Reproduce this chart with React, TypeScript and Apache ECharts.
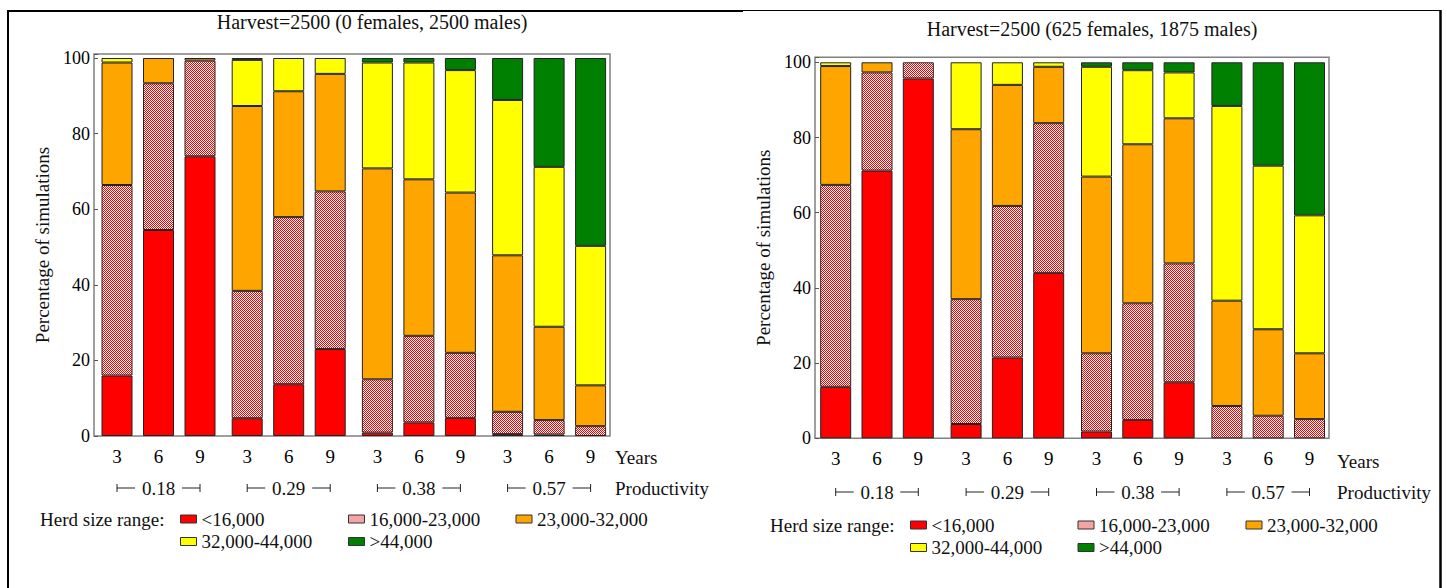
import React, { useEffect, useRef } from 'react';
import * as echarts from 'echarts';

// ---------- data ----------
const years = ['3', '6', '9'];
const productivity = ['0.18', '0.29', '0.38', '0.57'];
const ranges = ['<16,000', '16,000-23,000', '23,000-32,000', '32,000-44,000', '>44,000'];
const titles = ['Harvest=2500 (0 females, 2500 males)', 'Harvest=2500 (625 females, 1875 males)'];
const yTicks = [0, 20, 40, 60, 80, 100];
const yName = 'Percentage of simulations';
const xName = 'Years';
const groupName = 'Productivity';
const legendTitle = 'Herd size range:';

// left panel: 0 females, 2500 males (12 bars: 4 productivity groups x 3 years)
const leftLt16 = [16, 54.5, 74, 4.7, 13.7, 23, 0.9, 3.6, 4.8, 0.5, 0.4, 0];
const left16to23 = [50.4, 38.8, 25.3, 33.7, 44.2, 41.7, 14.1, 22.9, 17.2, 5.9, 3.8, 2.6];
const left23to32 = [32.4, 6.7, 0.7, 48.9, 33.3, 31.1, 55.8, 41.4, 42.4, 41.4, 24.7, 10.8];
const left32to44 = [1.2, 0, 0, 12.2, 8.8, 4.2, 28, 30.9, 32.4, 41.1, 42.3, 36.9];
const leftGt44 = [0, 0, 0, 0.5, 0, 0, 1.2, 1.2, 3.2, 11.1, 28.8, 49.7];

// right panel: 625 females, 1875 males
const rightLt16 = [13.7, 71.2, 95.7, 3.8, 21.5, 44, 1.8, 4.9, 14.9, 0, 0, 0];
const right16to23 = [53.7, 26.1, 4.3, 33.2, 40.3, 39.8, 20.8, 31, 31.6, 8.6, 6, 5.1];
const right23to32 = [31.6, 2.7, 0, 45.2, 32.2, 15, 47, 42.3, 38.6, 28, 23, 17.5];
const right32to44 = [1, 0, 0, 17.8, 6, 1.2, 29.2, 19.7, 12.2, 51.8, 43.5, 36.7];
const rightGt44 = [0, 0, 0, 0, 0, 0, 1.2, 2.1, 2.7, 11.6, 27.5, 40.7];

const panelData = [
  [leftLt16, left16to23, left23to32, left32to44, leftGt44],
  [rightLt16, right16to23, right23to32, right32to44, rightGt44],
];

// ---------- layout / style ----------
const FONT = "'Liberation Serif', 'Times New Roman', serif";
const layouts = [
  {
    frame: [94, 54, 610, 436], plotTop: 58, c0: 117, s: 41.5, G: 130.2,
    titleX: 372, titleY: 12, labelX: 615, yearsY: 457, prodY: 488, herdX: 40,
    legendCols: [180, 348, 515.5], legendRows: [519, 541.5],
  },
  {
    frame: [815, 57.3, 1329, 438.3], plotTop: 62.3, c0: 835.7, s: 41.3, G: 130.4,
    titleX: 1092, titleY: 19, labelX: 1337, yearsY: 461, prodY: 492, herdX: 770,
    legendCols: [910, 1077.5, 1245.5], legendRows: [525, 547.5],
  },
];

function makeHatch() {
  const cv = document.createElement('canvas');
  cv.width = 2;
  cv.height = 2;
  const ctx = cv.getContext('2d')!;
  ctx.fillStyle = '#ffffff';
  ctx.fillRect(0, 0, 2, 2);
  ctx.fillStyle = '#ff0000';
  ctx.fillRect(0, 0, 1, 1);
  ctx.fillRect(1, 1, 1, 1);
  return { image: cv.toDataURL(), repeat: 'repeat', imageWidth: 2, imageHeight: 2 };
}

function buildOption() {
  const colors: any[] = ['#ff0000', makeHatch(), '#ffa500', '#ffff00', '#008000'];
  const legendColors: string[] = ['#ff0000', '#f5a3a3', '#ffa500', '#ffff00', '#008000'];
  const grids: any[] = [];
  const xAxes: any[] = [];
  const yAxes: any[] = [];
  const series: any[] = [];
  const legends: any[] = [];
  const graphics: any[] = [];
  const titleOpts: any[] = [];

  const txt = (text: string, x: number, y: number, align = 'left', size = 19) => ({
    type: 'text',
    style: { text, x, y, align, verticalAlign: 'middle', fontFamily: FONT, fontSize: size, fill: '#111' },
  });
  const ln = (x1: number, y1: number, x2: number, y2: number, w = 1, c = '#222') => ({
    type: 'line',
    shape: { x1, y1, x2, y2 },
    style: { stroke: c, lineWidth: w },
  });

  layouts.forEach((L, pi) => {
    const [fl, ft, fr, fb] = L.frame;
    const frameIdx = grids.length;
    grids.push({
      left: fl, top: ft, width: fr - fl, height: fb - ft,
      show: true, borderColor: '#808080', borderWidth: 1.5, backgroundColor: 'transparent',
    });
    xAxes.push({ gridIndex: frameIdx, type: 'value', min: 0, max: 1, show: false });
    yAxes.push({
      gridIndex: frameIdx, type: 'value', min: 0,
      max: (fb - ft) / ((fb - L.plotTop) / 100), interval: 20,
      name: yName, nameLocation: 'middle', nameGap: 42,
      nameTextStyle: { fontFamily: FONT, fontSize: 19, color: '#111' },
      axisLine: { show: false },
      axisTick: { show: true, inside: true, length: 4, lineStyle: { color: '#555' } },
      splitLine: { show: false },
      axisLabel: {
        margin: 4, fontFamily: FONT, fontSize: 18, color: '#000',
        formatter: (v: number) => (yTicks.includes(Math.round(v * 1000) / 1000) ? String(v) : ''),
      },
    });

    productivity.forEach((prod, g) => {
      const gi = grids.length;
      grids.push({ left: L.c0 + g * L.G - L.s / 2, top: L.plotTop, width: 3 * L.s, height: fb - L.plotTop });
      xAxes.push({
        gridIndex: gi, type: 'category', data: years,
        axisLine: { show: false }, axisTick: { show: false },
        axisLabel: { margin: 11, fontFamily: FONT, fontSize: 19, color: '#000' },
      });
      yAxes.push({ gridIndex: gi, type: 'value', min: 0, max: 100, show: false });
      ranges.forEach((name, r) => {
        series.push({
          type: 'bar', name, xAxisIndex: gi, yAxisIndex: gi, stack: `p${pi}g${g}`,
          barWidth: 31,
          data: panelData[pi][r].slice(g * 3, g * 3 + 3).map((v) => (v === 0 ? null : v)),
          itemStyle: { color: colors[r], borderColor: '#222', borderWidth: 1 },
        });
      });

      // productivity range marker
      const xa = L.c0 + g * L.G;
      const xb = xa + 2 * L.s;
      const y = L.prodY;
      graphics.push(ln(xa, y - 4, xa, y + 4));
      graphics.push(ln(xa, y, xa + 18, y));
      graphics.push(ln(xb, y - 4, xb, y + 4));
      graphics.push(ln(xb - 18, y, xb, y));
      graphics.push(txt(prod, xa + L.s, y, 'center'));
    });

    graphics.push(txt(xName, L.labelX, L.yearsY));
    graphics.push(txt(groupName, L.labelX, L.prodY));
    graphics.push(txt(legendTitle, L.herdX, L.legendRows[0]));

    ranges.forEach((name, r) => {
      legends.push({
        data: [{ name, itemStyle: { color: legendColors[r] } }],
        left: L.legendCols[r % 3],
        top: L.legendRows[Math.floor(r / 3)] - 10,
        padding: 0, icon: 'rect', itemWidth: 16, itemHeight: 8,
        selectedMode: false,
        itemStyle: { borderColor: '#333', borderWidth: 1 },
        textStyle: { fontFamily: FONT, fontSize: 19, color: '#111', lineHeight: 20 },
      });
    });

    titleOpts.push({
      text: titles[pi], left: L.titleX, top: L.titleY, textAlign: 'center', padding: 0,
      textStyle: { fontFamily: FONT, fontSize: 20, fontWeight: 'normal', color: '#111' },
    });
  });

  // outer panel borders
  graphics.push(ln(8, 10, 8, 588, 2, '#000'));
  graphics.push(ln(7, 11, 743, 11, 2, '#000'));
  graphics.push(ln(743, 10.5, 1441, 10.5, 1, '#000'));
  graphics.push(ln(1440.5, 10, 1440.5, 588, 2.5, '#000'));

  return {
    animation: false,
    backgroundColor: '#ffffff',
    title: titleOpts,
    grid: grids,
    xAxis: xAxes,
    yAxis: yAxes,
    legend: legends,
    series,
    graphic: graphics,
  };
}

export default function App() {
  const ref = useRef<HTMLDivElement>(null);
  useEffect(() => {
    if (!ref.current) return;
    const chart = echarts.init(ref.current, null, { renderer: 'svg' });
    chart.setOption(buildOption() as any);
    return () => chart.dispose();
  }, []);
  return (
    <div
      ref={ref}
      style={{ position: 'fixed', left: 0, top: 0, width: 1447, height: 588, background: '#fff' }}
    />
  );
}
